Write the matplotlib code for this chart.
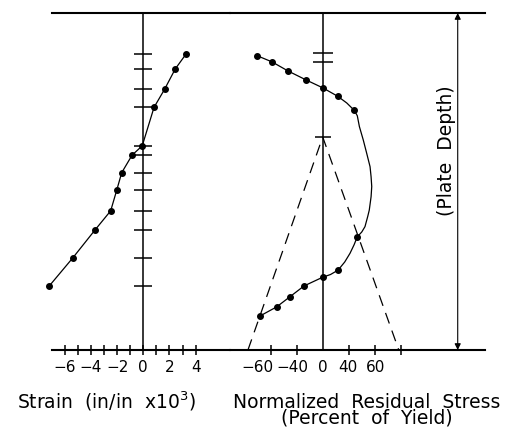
import matplotlib
matplotlib.use("Agg")
import matplotlib.pyplot as plt
import numpy as np

# depth measured from bottom of plate (0) to top (1)
strain_depth = [0.878, 0.834, 0.774, 0.720, 0.606, 0.578, 0.526, 0.474, 0.413, 0.356, 0.273, 0.190]
strain_vals = [3.26, 2.44, 1.63, 0.82, -0.08, -0.86, -1.65, -2.03, -2.49, -3.69, -5.39, -7.18]

stress_depth = [0.873, 0.855, 0.828, 0.801, 0.778, 0.753, 0.711, 0.336, 0.237, 0.216, 0.190, 0.158, 0.128, 0.101]
stress_vals = [-50.3, -39.0, -26.7, -12.6, 0.0, 11.5, 24.3, 26.6, 11.8, 0.0, -14.4, -25.2, -35.4, -48.2]

curve_depth = [0.873, 0.855, 0.828, 0.801, 0.778, 0.753, 0.733, 0.711, 0.695, 0.663, 0.623,
               0.584, 0.544, 0.514, 0.485, 0.455, 0.415, 0.396, 0.366, 0.350, 0.336, 0.312,
               0.287, 0.261, 0.237, 0.224, 0.216, 0.190, 0.158, 0.128, 0.101]
curve_vals = [-50.3, -39.0, -26.7, -12.6, 0.0, 11.5, 18.5, 24.3, 26.6, 28.2, 31.2,
              33.8, 36.4, 37.2, 37.7, 37.2, 35.8, 34.6, 32.5, 30.0, 26.6, 24.1,
              21.0, 16.9, 11.8, 6.0, 0.0, -14.4, -25.2, -35.4, -48.2]

# dashed triangle (assumed residual stress pattern)
tri_vals = [-57.5, 0.0, 58.5]
tri_depth = [0.0, 0.632, 0.0]

# small marks on the vertical axes
stress_marks = [0.882, 0.854]
apex_mark = [0.632]

strain_ticks = [-6, -5, -4, -3, -2, -1, 0, 1, 2, 3, 4]
strain_labels = [-6, -4, -2, 0, 2, 4]
stress_ticks = [-40, -20, 20, 40, 60]
stress_label_pos = [-50.5, -23.6, 0, 19.5, 40.3]
stress_labels = ["\u221260", "\u221240", "0", "40", "60"]

fig = plt.figure(figsize=(5.07, 4.32), dpi=100)
fig.patch.set_facecolor("white")

axL = fig.add_axes([52/507, 1-350/432, 178/507, 337/432])
axR = fig.add_axes([230/507, 1-350/432, 255/507, 337/432])

for ax in (axL, axR):
    ax.set_ylim(0, 1)
    ax.patch.set_alpha(0)
    ax.spines["left"].set_visible(False)
    ax.spines["right"].set_visible(False)
    ax.spines["top"].set_linewidth(1.5)
    ax.spines["bottom"].set_linewidth(1.5)
    ax.set_yticks([])
    ax.axvline(0, color="black", lw=1.1)

## Strain
axL.set_xlim(-6.97, 6.62)
axL.plot(strain_vals, strain_depth, color="black", lw=0.9, marker="o", ms=4, clip_on=False)
axL.plot(np.zeros(len(strain_depth)), strain_depth, ls="none", marker="_", ms=13, mew=1.1, color="black")
axL.set_xticks(strain_labels)
axL.set_xticklabels(["\u22126", "\u22124", "\u22122", "0", "2", "4"])
axL.set_xticks(strain_ticks, minor=True)
axL.tick_params(axis="x", which="both", direction="inout", length=7, width=1.1, pad=4, labelsize=11)

## Residual stress
axR.set_xlim(-71.3, 124.8)
axR.plot(curve_vals, curve_depth, color="black", lw=0.9)
axR.plot(stress_vals, stress_depth, ls="none", color="black", marker="o", ms=4)
axR.plot(tri_vals, tri_depth, color="black", lw=0.9, ls=(0, (9, 6)))
axR.plot(np.zeros(2), stress_marks, ls="none", marker="_", ms=14, mew=1.1, color="black")
axR.plot(np.zeros(1), apex_mark, ls="none", marker="_", ms=11, mew=1.1, color="black")
axR.set_xticks(stress_label_pos)
axR.set_xticklabels(stress_labels)
axR.set_xticks(stress_ticks, minor=True)
axR.tick_params(axis="x", which="major", length=0, pad=7.5, labelsize=11)
axR.tick_params(axis="x", which="minor", direction="inout", length=7, width=1.1)

# plate depth dimension arrow
axR.annotate("", xy=(0.893, 1), xytext=(0.893, 0), xycoords=("axes fraction", "data"),
             arrowprops=dict(arrowstyle="<|-|>", lw=0.8, color="black", mutation_scale=9,
                             shrinkA=0, shrinkB=0))
fig.text(446/507, 1-151/432, "(Plate  Depth)", rotation=90, ha="center", va="center", fontsize=13.5)

fig.text(106.5/507, 1-401.7/432, "Strain  (in/in  x10$^3$)", ha="center", va="center", fontsize=13.5)
fig.text(367/507, 1-410.5/432, "Normalized  Residual  Stress\n(Percent  of  Yield)",
         ha="center", va="center", multialignment="center", linespacing=0.8, fontsize=13.5)

plt.savefig("out.png", dpi=100)
